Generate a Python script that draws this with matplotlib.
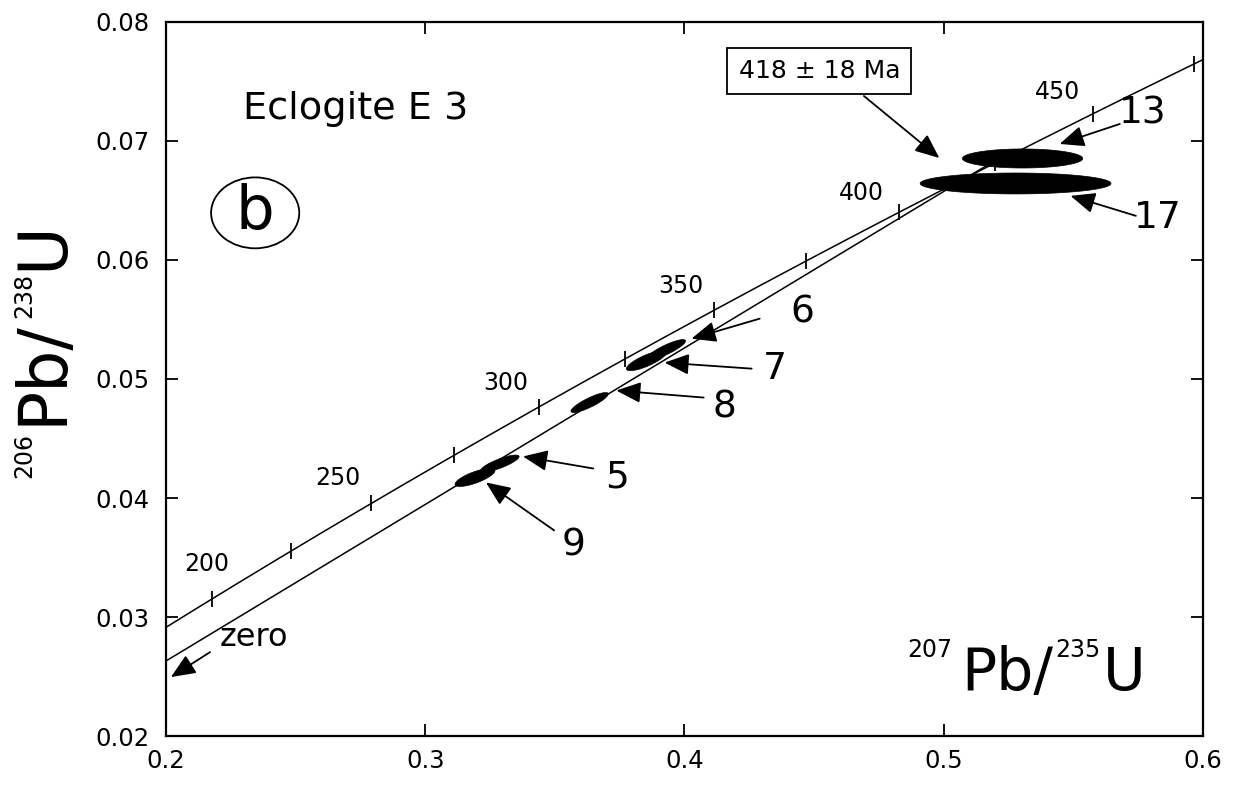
import numpy as np
import matplotlib
matplotlib.use("Agg")
import matplotlib.pyplot as plt
from matplotlib.patches import Polygon, Ellipse
from matplotlib.transforms import offset_copy

# decay constants (1/yr)
lam238 = 1.55125e-10
lam235 = 9.8485e-10

# zircon fractions: 207Pb/235U, 206Pb/238U, 2 sigma errors, error correlation
spot = ['9', '5', '8', '7', '6', '13', '17']
x207 = [0.3192, 0.3288, 0.3634, 0.3853, 0.3930, 0.5304, 0.5277]
x_err = [0.0077, 0.0074, 0.0072, 0.0077, 0.0074, 0.0232, 0.0368]
y206 = [0.04173, 0.04290, 0.04802, 0.05154, 0.05247, 0.06853, 0.06643]
y_err = [0.00076, 0.00071, 0.00084, 0.00084, 0.00084, 0.00080, 0.00088]
rho = [0.75, 0.82, 0.86, 0.80, 0.86, 0.0, 0.0]

# concordia ages (Ma) and which get a label
tick_ages = [200, 225, 250, 275, 300, 325, 350, 375, 400, 425, 450, 475]
label_ages = [200, 250, 300, 350, 400, 450]

upper_age = 418   # Ma, discordia upper intercept, lower intercept at zero
age_err = 18

xticks = [0.2, 0.3, 0.4, 0.5, 0.6]
yticks = [0.02, 0.03, 0.04, 0.05, 0.06, 0.07, 0.08]


def conc(t_ma):
    t = np.asarray(t_ma) * 1e6
    return np.exp(lam235 * t) - 1, np.exp(lam238 * t) - 1


fig = plt.figure(figsize=(12.35, 7.85), dpi=100)
ax = fig.add_axes([0.1344, 0.0624, 0.8397, 0.9096])
ax.set_xlim(0.2, 0.6)
ax.set_ylim(0.02, 0.08)

# concordia curve
cx, cy = conc(np.linspace(170, 490, 400))
ax.plot(cx, cy, color='black', lw=1.1)
tx, ty = conc(tick_ages)
ax.plot(tx, ty, ls='none', marker='|', ms=11, mew=1.3, color='black')

lab_off = {200: (-5, 35), 250: (-33, 25), 300: (-33, 24), 350: (-34, 24),
           400: (-38, 19), 450: (-36, 22)}
for a in label_ages:
    lx, ly = conc(a)
    ax.annotate(str(a), (lx, ly), xytext=lab_off[a], textcoords='offset pixels',
                ha='center', va='center', fontsize=17)

# discordia through zero
ux, uy = conc(upper_age)
dx = np.array([0.2, 0.525])
ax.plot(dx, dx * uy / ux, color='black', lw=1.1)

# error ellipses
t = np.linspace(0, 2 * np.pi, 200)
for i in range(len(spot)):
    ex = x207[i] + x_err[i] * np.cos(t)
    ey = y206[i] + y_err[i] * (rho[i] * np.cos(t) + np.sqrt(1 - rho[i] ** 2) * np.sin(t))
    ax.add_patch(Polygon(np.column_stack([ex, ey]), closed=True, fc='black', ec='black', lw=0.5, zorder=3))

# arrows to the fractions
arr = dict(arrowstyle='-|>,head_length=0.75,head_width=0.32', mutation_scale=20,
           color='black', lw=1.3, shrinkA=0, shrinkB=0)
arrow_tail = {'13': (0.5679, 0.07143), '17': (0.5741, 0.06371), '6': (0.4290, 0.05507),
              '7': (0.4259, 0.05087), '8': (0.4074, 0.04844), '5': (0.3648, 0.04248),
              '9': (0.3497, 0.03728)}
arrow_head = {'13': (0.5447, 0.06975), '17': (0.5489, 0.06539), '6': (0.4027, 0.05339),
              '7': (0.3923, 0.05138), '8': (0.3737, 0.04903), '5': (0.3377, 0.04349),
              '9': (0.3234, 0.04131)}
num_pos = {'13': (0.5768, 0.07235), '17': (0.5826, 0.06354), '6': (0.4453, 0.05557),
           '7': (0.4348, 0.05087), '8': (0.4155, 0.04760), '5': (0.3741, 0.04173),
           '9': (0.3574, 0.03602)}
for s in spot:
    ax.annotate('', xy=arrow_head[s], xytext=arrow_tail[s], arrowprops=arr)
    ax.text(*num_pos[s], s, fontsize=27, ha='center', va='center')

# zero arrow
ax.annotate('', xy=(0.2019, 0.02495), xytext=(0.2170, 0.02705), arrowprops=arr)
ax.text(0.2340, 0.02831, 'zero', fontsize=23, ha='center', va='center')

# age box
ax.text(0.4520, 0.07587, f'{upper_age} \u00b1 {age_err} Ma', fontsize=18, ha='center', va='center',
        bbox=dict(boxstyle='square,pad=0.45', fc='white', ec='black', lw=1.3))
ax.annotate('', xy=(0.4983, 0.06857), xytext=(0.4692, 0.07378), arrowprops=arr)

# sample name and panel letter
ax.text(0.2298, 0.07185, 'Eclogite E 3', fontsize=27.5, ha='left', va='baseline')
ax.add_patch(Ellipse((0.2344, 0.06396), 0.0340, 0.00596, fc='none', ec='black', lw=1.3))
ax.text(0.2344, 0.06396, 'b', fontsize=44, ha='center', va='center')

# axes styling
ax.set_xticks(xticks)
ax.set_xticklabels([f'{v:.1f}' for v in xticks])
ax.set_yticks(yticks)
ax.set_yticklabels([f'{v:.2f}' for v in yticks])
ax.tick_params(direction='in', top=True, right=True, length=8.5, width=1.3,
               labelsize=17.5)
ax.tick_params(axis='x', pad=9)
ax.tick_params(axis='y', pad=12)
for sp in ax.spines.values():
    sp.set_linewidth(1.6)


def rich_text(x, y, pieces, transform, rotation=0):
    # draw super/normal pieces one after another
    renderer = fig.canvas.get_renderer()
    tr = transform
    for s, size, rise, gap in pieces:
        if rotation == 0:
            tp = offset_copy(tr, fig=fig, x=gap, y=rise, units='dots')
        else:
            tp = offset_copy(tr, fig=fig, x=-rise, y=gap, units='dots')
        txt = fig.text(x, y, s, fontsize=size, transform=tp, rotation=rotation,
                       rotation_mode='anchor', ha='left', va='baseline')
        ext = txt.get_window_extent(renderer)
        if rotation == 0:
            tr = offset_copy(tr, fig=fig, x=gap + ext.width, units='dots')
        else:
            tr = offset_copy(tr, fig=fig, y=gap + ext.height, units='dots')


rich_text(0.7146, 0.0644, [('207', 17, 33, 0), ('Pb/', 42, 0, 9), ('235', 17, 33, 2), ('U', 42, 0, 3)],
          ax.transAxes)
rich_text(62 / 1235, 1 - 478 / 785, [('206', 17, 31, 0), ('Pb/', 48, 0, 8), ('238', 17, 31, 2), ('U', 48, 0, 3)],
          fig.transFigure, rotation=90)

fig.savefig('out.png', dpi=100)
